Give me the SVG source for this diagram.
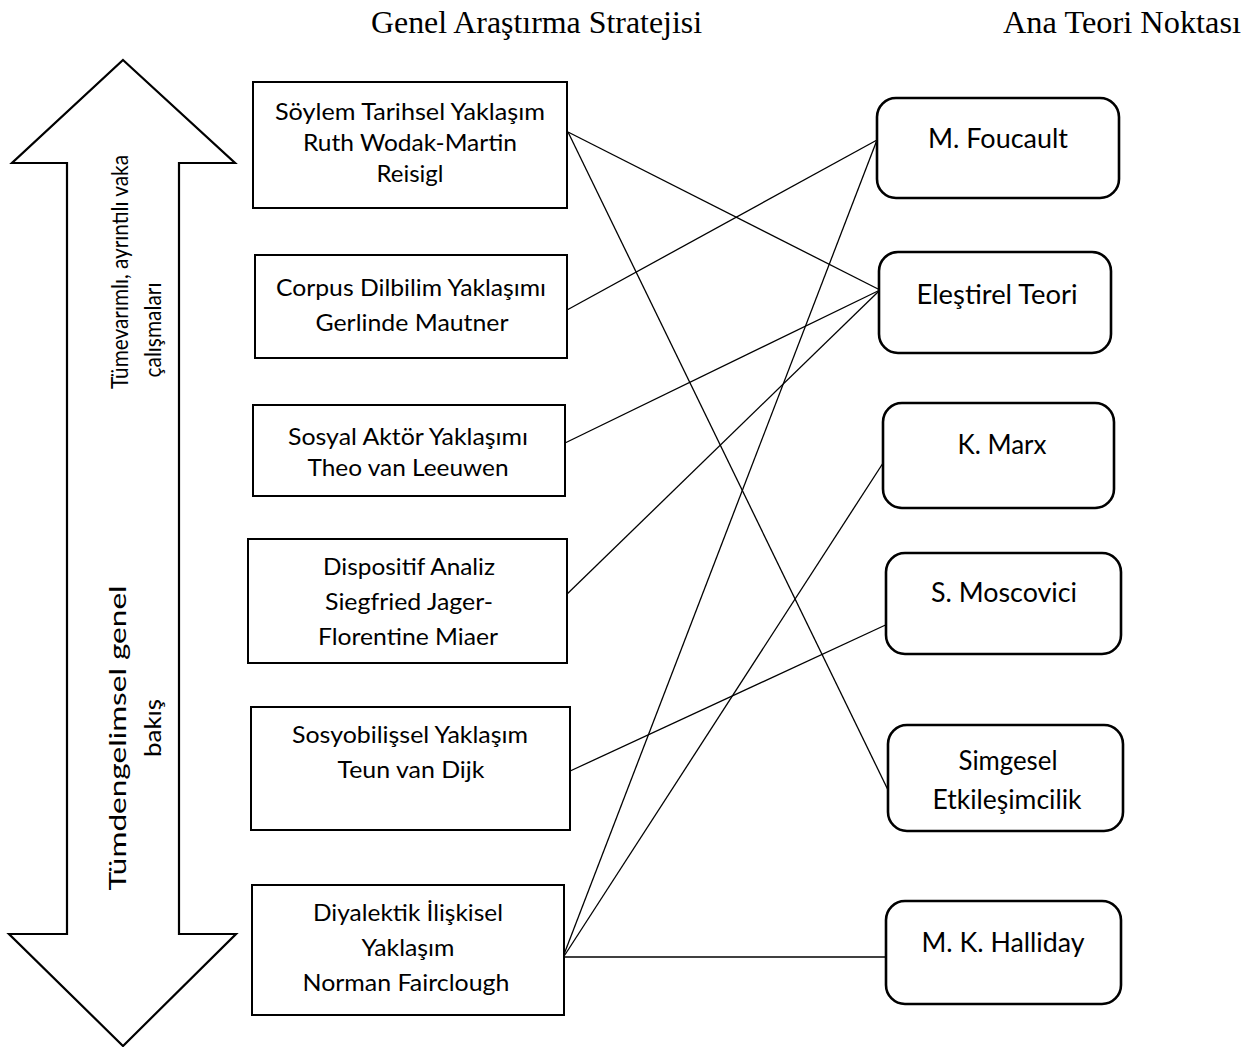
<svg xmlns="http://www.w3.org/2000/svg" width="1250" height="1047" viewBox="0 0 1250 1047">
<style>
.bg{fill:#ffffff}
.arrow{fill:#ffffff;stroke:#000;stroke-width:2.2;stroke-linejoin:miter}
.lbox{fill:#ffffff;stroke:#000;stroke-width:2}
.rbox{fill:#ffffff;stroke:#000;stroke-width:2.6}
.lt{font-family:Lato,"Open Sans","Liberation Sans",sans-serif;font-size:23.5px;fill:#000;text-anchor:middle}
.rt{font-family:Lato,"Open Sans","Liberation Sans",sans-serif;font-size:26px;fill:#000;text-anchor:middle}
.vt{font-family:Lato,"Open Sans","Liberation Sans",sans-serif;font-size:24px;fill:#000;text-anchor:middle}
.hd{font-family:"Liberation Serif","Times New Roman",serif;font-size:32px;fill:#000}
.conn line{stroke:#000;stroke-width:1.3}
</style>
<rect class="bg" x="0" y="0" width="1250" height="1047"/>

<g id="headers">
<text class="hd" x="371" y="33" textLength="331" lengthAdjust="spacingAndGlyphs">Genel Araştırma Stratejisi</text>
<text class="hd" x="1003" y="33" textLength="238" lengthAdjust="spacingAndGlyphs">Ana Teori Noktası</text>
</g>

<g id="scale-arrow">
<polygon class="arrow" points="123,60 235,163 179,163 179,934 236,934 123,1046 9,934 67,934 67,163 12,163"/>
<text class="vt" transform="translate(128,272) rotate(-90)" textLength="234" lengthAdjust="spacingAndGlyphs">Tümevarımlı, ayrıntılı vaka</text>
<text class="vt" transform="translate(161,330) rotate(-90)" textLength="95" lengthAdjust="spacingAndGlyphs">çalışmaları</text>
<text class="vt" transform="translate(126,738) rotate(-90)" textLength="305" lengthAdjust="spacingAndGlyphs">Tümdengelimsel genel</text>
<text class="vt" transform="translate(161,728) rotate(-90)" textLength="58" lengthAdjust="spacingAndGlyphs">bakış</text>
</g>

<g id="connectors" class="conn">
<line x1="568" y1="132" x2="880" y2="290"/>
<line x1="568" y1="132" x2="888" y2="790"/>
<line x1="567" y1="310" x2="877" y2="140"/>
<line x1="565" y1="443" x2="880" y2="290"/>
<line x1="563" y1="598" x2="880" y2="290"/>
<line x1="568" y1="772" x2="892" y2="622"/>
<line x1="563" y1="957" x2="877" y2="140"/>
<line x1="559" y1="964" x2="885" y2="460"/>
<line x1="560" y1="957" x2="888" y2="957"/>
</g>

<g id="n-soylem">
<rect class="lbox" x="253" y="82" width="314" height="126"/>
<text class="lt" x="410" y="120" textLength="270" lengthAdjust="spacingAndGlyphs">Söylem Tarihsel Yaklaşım</text>
<text class="lt" x="410" y="151" textLength="214" lengthAdjust="spacingAndGlyphs">Ruth Wodak-Martin</text>
<text class="lt" x="410" y="182" textLength="67" lengthAdjust="spacingAndGlyphs">Reisigl</text>
</g>
<g id="n-corpus">
<rect class="lbox" x="255" y="255" width="312" height="103"/>
<text class="lt" x="411" y="296" textLength="270" lengthAdjust="spacingAndGlyphs">Corpus Dilbilim Yaklaşımı</text>
<text class="lt" x="412" y="331" textLength="193" lengthAdjust="spacingAndGlyphs">Gerlinde Mautner</text>
</g>
<g id="n-sosyal">
<rect class="lbox" x="253" y="405" width="312" height="91"/>
<text class="lt" x="408" y="445" textLength="240" lengthAdjust="spacingAndGlyphs">Sosyal Aktör Yaklaşımı</text>
<text class="lt" x="408" y="476" textLength="201" lengthAdjust="spacingAndGlyphs">Theo van Leeuwen</text>
</g>
<g id="n-dispositif">
<rect class="lbox" x="248" y="539" width="319" height="124"/>
<text class="lt" x="409" y="575" textLength="172" lengthAdjust="spacingAndGlyphs">Dispositif Analiz</text>
<text class="lt" x="409" y="610" textLength="168" lengthAdjust="spacingAndGlyphs">Siegfried Jager-</text>
<text class="lt" x="408" y="645" textLength="180" lengthAdjust="spacingAndGlyphs">Florentine Miaer</text>
</g>
<g id="n-sosyobilissel">
<rect class="lbox" x="251" y="707" width="319" height="123"/>
<text class="lt" x="410" y="743" textLength="236" lengthAdjust="spacingAndGlyphs">Sosyobilişsel Yaklaşım</text>
<text class="lt" x="411" y="778" textLength="147" lengthAdjust="spacingAndGlyphs">Teun van Dijk</text>
</g>
<g id="n-diyalektik">
<rect class="lbox" x="252" y="885" width="312" height="130"/>
<text class="lt" x="408" y="921" textLength="190" lengthAdjust="spacingAndGlyphs">Diyalektik İlişkisel</text>
<text class="lt" x="408" y="956" textLength="93" lengthAdjust="spacingAndGlyphs">Yaklaşım</text>
<text class="lt" x="406" y="991" textLength="207" lengthAdjust="spacingAndGlyphs">Norman Fairclough</text>
</g>

<g id="n-foucault">
<rect class="rbox" x="877" y="98" width="242" height="100" rx="19"/>
<text class="rt" x="998" y="148" textLength="140" lengthAdjust="spacingAndGlyphs">M. Foucault</text>
</g>
<g id="n-elestirel">
<rect class="rbox" x="879" y="252" width="232" height="101" rx="19"/>
<text class="rt" x="997" y="304" textLength="161" lengthAdjust="spacingAndGlyphs">Eleştirel Teori</text>
</g>
<g id="n-marx">
<rect class="rbox" x="883" y="403" width="231" height="105" rx="19"/>
<text class="rt" x="1002" y="454" textLength="89" lengthAdjust="spacingAndGlyphs">K. Marx</text>
</g>
<g id="n-moscovici">
<rect class="rbox" x="886" y="553" width="235" height="101" rx="19"/>
<text class="rt" x="1004" y="602" textLength="146" lengthAdjust="spacingAndGlyphs">S. Moscovici</text>
</g>
<g id="n-simgesel">
<rect class="rbox" x="888" y="725" width="235" height="106" rx="19"/>
<text class="rt" x="1008" y="770" textLength="99" lengthAdjust="spacingAndGlyphs">Simgesel</text>
<text class="rt" x="1007" y="809" textLength="149" lengthAdjust="spacingAndGlyphs">Etkileşimcilik</text>
</g>
<g id="n-halliday">
<rect class="rbox" x="886" y="901" width="235" height="103" rx="19"/>
<text class="rt" x="1003" y="952" textLength="163" lengthAdjust="spacingAndGlyphs">M. K. Halliday</text>
</g>
</svg>
